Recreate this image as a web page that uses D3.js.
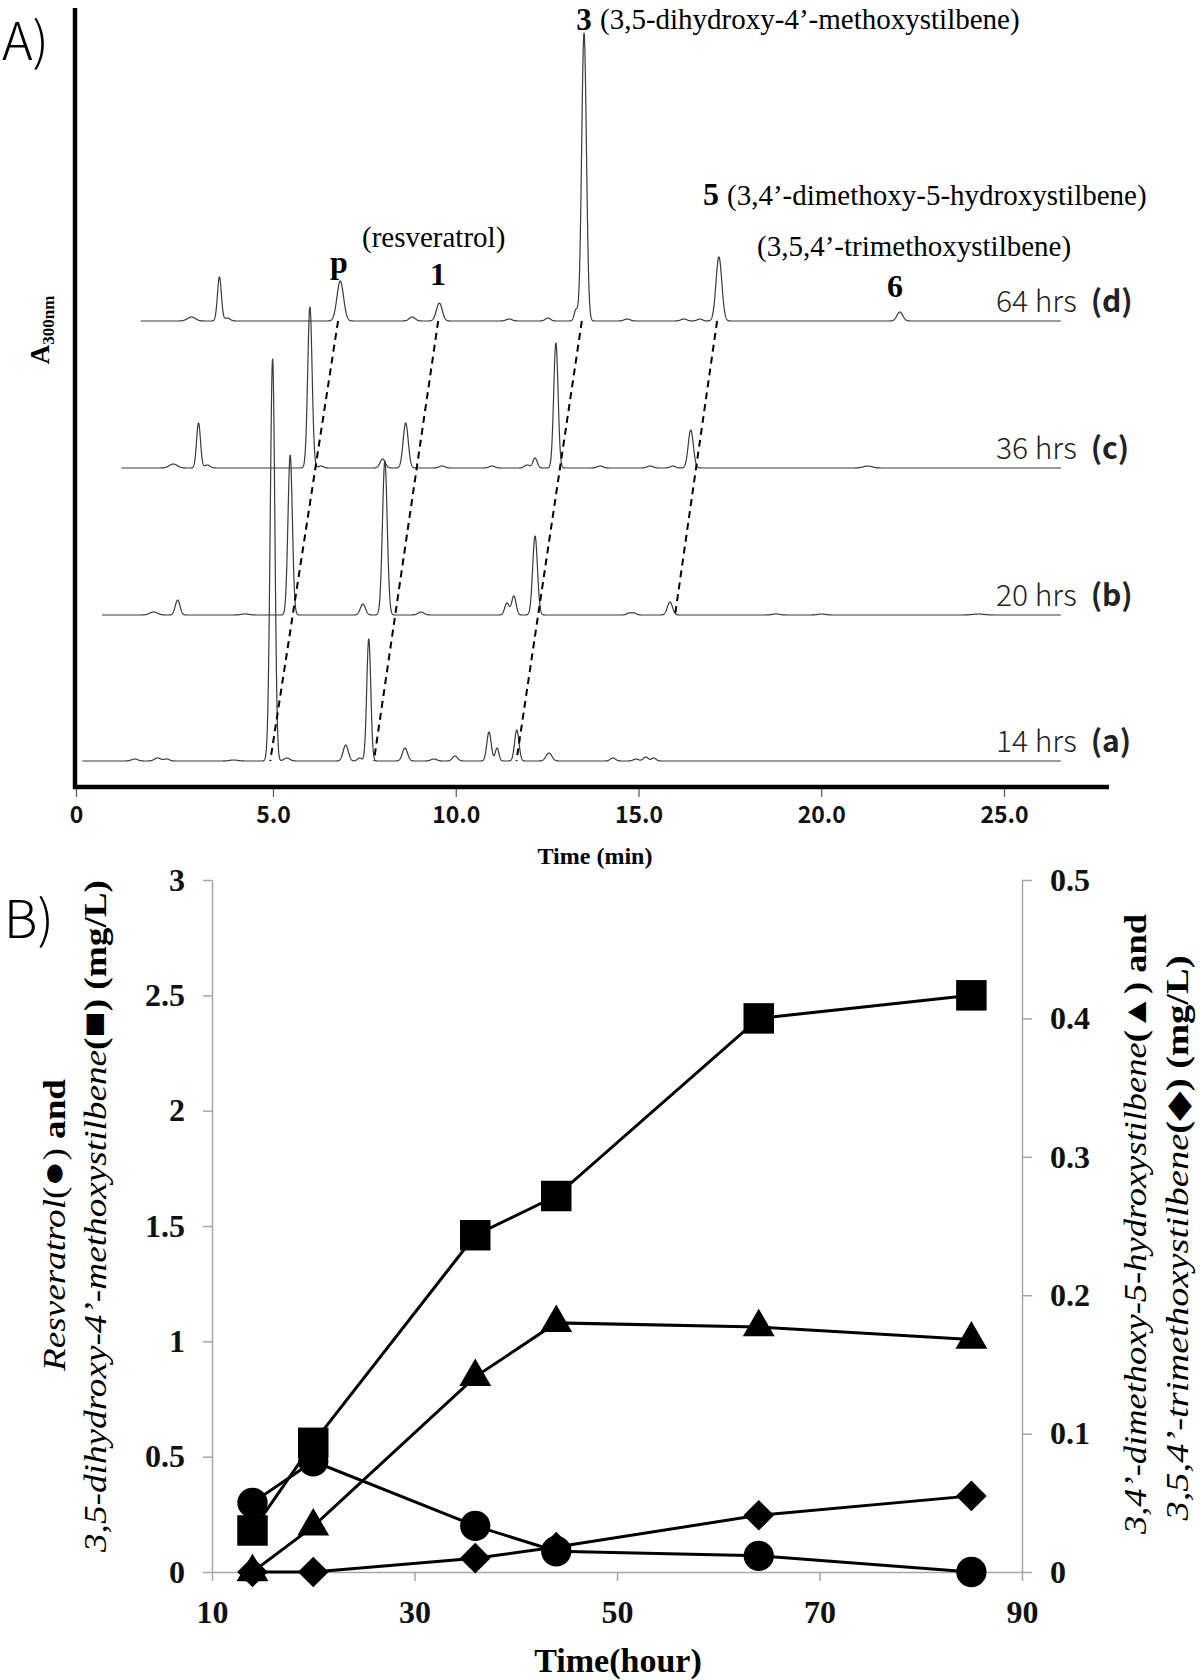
<!DOCTYPE html>
<html>
<head>
<meta charset="utf-8">
<script src="https://cdn.jsdelivr.net/npm/d3@7"></script>
<style>
  html, body { margin: 0; padding: 0; background: #fff; }
  svg { display: block; }
</style>
</head>
<body>
<svg id="chart" width="1200" height="1680"></svg>
<script>
// ---------------- Panel A data (HPLC chromatograms) ----------------
const timeTicks = [0, 5, 10, 15, 20, 25];
const timeTickLabels = ["0", "5.0", "10.0", "15.0", "20.0", "25.0"];
const traceHours = ["14 hrs", "20 hrs", "36 hrs", "64 hrs"];
const traceLetters = ["(a)", "(b)", "(c)", "(d)"];
const runStart = [0.16, 0.66, 1.15, 1.64];   // min
const runEnd = [26.56, 26.56, 26.56, 26.56]; // min
// peaks: [retention time (min), height (mAU), width sigma (min)]
const peaks14h = [[1.49,2,0.08],[2.07,3,0.08],[2.30,2,0.07],[4.0,1,0.1],[4.99,402,0.06],[5.38,3,0.08],
  [6.99,16,0.07],[7.37,3,0.06],[7.62,122,0.055],[8.61,13,0.07],[9.40,2,0.08],[9.98,5,0.07],
  [10.91,29,0.06],[11.13,13,0.05],[11.67,31,0.06],[12.55,8,0.08],[14.30,3,0.07],[14.93,2,0.07],[15.20,4,0.07],[15.42,3,0.06]];
const peaks20h = [[1.97,3,0.1],[2.58,15,0.06],[4.29,1,0.1],[5.47,160,0.06],[7.46,11,0.07],[8.06,154,0.065],
  [9.05,3,0.08],[11.40,12,0.06],[11.59,19,0.06],[12.17,79,0.065],[14.74,2,0.06],[14.88,2,0.06],
  [15.86,13,0.07],[18.76,1,0.1],[20.01,1,0.1],[24.3,1,0.15]];
const peaks36h = [[2.47,4,0.1],[3.11,45,0.05],[3.33,3,0.07],[6.01,161,0.06],[6.31,2,0.07],[8.0,9,0.07],
  [8.63,45,0.07],[9.62,2,0.08],[10.99,2,0.08],[11.95,3,0.07],[12.17,10,0.06],[12.74,125,0.06],
  [13.95,2,0.08],[15.32,2,0.08],[15.94,2,0.07],[16.43,38,0.07],[21.27,2,0.12]];
const peaks64h = [[2.93,4,0.1],[3.64,44,0.05],[3.84,3,0.07],[6.84,40,0.09],[8.81,4,0.08],[9.55,18,0.08],
  [11.46,2,0.08],[12.52,3,0.07],[13.29,11,0.05],[13.51,288,0.065],[14.69,2,0.08],[16.24,2,0.08],
  [16.68,2,0.07],[17.20,64,0.08],[22.15,9,0.08]];
const tracePeaks = [peaks14h, peaks20h, peaks36h, peaks64h];
// dashed connectors: [trace index, time] -> [trace index, time]
const connectors = [
  [[3, 6.78], [0, 4.93]],
  [[3, 9.52], [0, 7.76]],
  [[3, 13.45], [0, 11.66]],
  [[3, 17.15], [1, 16.0]]
];

// ---------------- Panel B data (time course) ----------------
const hours = [14, 20, 36, 44, 64, 85];
const resveratrol = [0.30, 0.48, 0.20, 0.09, 0.07, 0.00];          // left axis (mg/L)
const dihydroxyMethoxy = [0.18, 0.56, 1.46, 1.63, 2.40, 2.50];     // left axis (mg/L)
const dimethoxyHydroxy = [0.000, 0.033, 0.141, 0.180, 0.177, 0.168]; // right axis (mg/L)
const trimethoxy = [0.000, 0.000, 0.010, 0.018, 0.041, 0.055];     // right axis (mg/L)
const hourTicks = [10, 30, 50, 70, 90];
const leftTicks = [0, 0.5, 1, 1.5, 2, 2.5, 3];
const leftTickLabels = ["0", "0.5", "1", "1.5", "2", "2.5", "3"];
const rightTicks = [0, 0.1, 0.2, 0.3, 0.4, 0.5];
const rightTickLabels = ["0", "0.1", "0.2", "0.3", "0.4", "0.5"];

const SERIF = "'Liberation Serif', 'Times New Roman', serif";
const SANS = "'Noto Sans CJK KR', 'Noto Sans', sans-serif";

const svg = d3.select("#chart");

// ================= PANEL A =================
const gA = svg.append("g");
const xA = d3.scaleLinear().domain([0, 5, 25]).range([76, 273, 1004]);
const yAbs = d3.scaleLinear().domain([0, 400]).range([0, 400]);
const baselines = [761, 615, 468, 321];
const axisAY = 787, axisAX = 75;

gA.append("text").attr("x", 2).attr("y", 60).attr("font-family", SANS)
  .attr("font-size", 52).attr("font-weight", 300).text("A)");

// traces
const signal = (t, pk) => d3.sum(pk, p => p[1] * Math.exp(-0.5 * Math.pow((t - p[0]) / p[2], 2)));
tracePeaks.forEach((pk, i) => {
  const ts = d3.range(runStart[i], runEnd[i], 0.004);
  const line = d3.line().x(t => xA(t)).y(t => baselines[i] - yAbs(signal(t, pk)));
  gA.append("path").attr("d", line(ts)).attr("fill", "none")
    .attr("stroke", "#3a3a3a").attr("stroke-width", 1.2).attr("stroke-linejoin", "round");
  const lab = gA.append("text").attr("x", 996).attr("y", baselines[i] - 9)
    .attr("font-family", SANS).attr("font-size", 30).attr("fill", "#222");
  lab.append("tspan").attr("font-weight", 300).text(traceHours[i]);
  lab.append("tspan").attr("font-weight", 700).attr("dx", 14).text(traceLetters[i]);
});

// dashed connectors
connectors.forEach(c => {
  gA.append("line")
    .attr("x1", xA(c[0][1])).attr("y1", baselines[c[0][0]])
    .attr("x2", xA(c[1][1])).attr("y2", baselines[c[1][0]])
    .attr("stroke", "#000").attr("stroke-width", 2).attr("stroke-dasharray", "7,5");
});

// axes
const axA = d3.axisBottom(xA).tickValues(timeTicks).tickFormat((d, i) => timeTickLabels[i])
  .tickSize(10).tickPadding(10);
const gAx = gA.append("g").attr("transform", `translate(0,${axisAY})`).call(axA);
gAx.select(".domain").remove();
gAx.selectAll(".tick line").attr("stroke", "#555").attr("stroke-width", 1.2);
gAx.selectAll(".tick text").attr("font-family", SANS).attr("font-size", 23)
  .attr("font-weight", 700).attr("fill", "#111");
gA.append("line").attr("x1", axisAX - 2).attr("x2", 1109).attr("y1", axisAY).attr("y2", axisAY)
  .attr("stroke", "#000").attr("stroke-width", 4.5);
gA.append("line").attr("x1", axisAX).attr("x2", axisAX).attr("y1", 8).attr("y2", axisAY + 2)
  .attr("stroke", "#000").attr("stroke-width", 4.5);

gA.append("text").attr("x", 595).attr("y", 864).attr("text-anchor", "middle")
  .attr("font-family", SERIF).attr("font-weight", 700).attr("font-size", 24).text("Time (min)");
const yl = gA.append("text").attr("transform", "translate(49,330) rotate(-90)")
  .attr("text-anchor", "middle").attr("font-family", SERIF).attr("font-weight", 700).attr("font-size", 27);
yl.append("tspan").text("A");
yl.append("tspan").attr("font-size", 17).attr("dy", 5).text("300nm");

// peak annotations
const ann = (x, y, txt, opts = {}) => gA.append("text").attr("x", x).attr("y", y)
  .attr("text-anchor", opts.anchor || "start").attr("font-family", SERIF)
  .attr("font-size", opts.size || 29).attr("font-weight", opts.bold ? 700 : 400).text(txt);
ann(584, 30, "3", {anchor: "middle", bold: true, size: 31});
ann(600, 29, "(3,5-dihydroxy-4\u2019-methoxystilbene)");
ann(711, 205, "5", {anchor: "middle", bold: true, size: 32});
ann(727, 205, "(3,4\u2019-dimethoxy-5-hydroxystilbene)");
ann(757, 256, "(3,5,4\u2019-trimethoxystilbene)");
ann(362, 247, "(resveratrol)");
ann(339, 273, "p", {anchor: "middle", bold: true, size: 32});
ann(438, 285, "1", {anchor: "middle", bold: true, size: 32});
ann(895, 297, "6", {anchor: "middle", bold: true, size: 32});

// ================= PANEL B =================
const gB = svg.append("g");
const xB = d3.scaleLinear().domain([10, 90]).range([212, 1022]);
const yL = d3.scaleLinear().domain([0, 3]).range([1572, 880]);
const yR = d3.scaleLinear().domain([0, 0.5]).range([1572, 880]);
const AX = "#a6a6a6";

gB.append("text").attr("x", 4).attr("y", 938).attr("font-family", SANS)
  .attr("font-size", 52).attr("font-weight", 300).text("B)");

const styleAxis = (g) => {
  g.select(".domain").attr("stroke", AX).attr("stroke-width", 1.5);
  g.selectAll(".tick line").attr("stroke", AX).attr("stroke-width", 1.5);
  g.selectAll(".tick text").attr("font-family", SERIF).attr("font-weight", 700)
    .attr("font-size", 32).attr("fill", "#111");
};
const gL = gB.append("g").attr("transform", `translate(${xB(10)},0)`)
  .call(d3.axisLeft(yL).tickValues(leftTicks).tickFormat((d, i) => leftTickLabels[i]).tickSize(9).tickPadding(18).tickSizeOuter(0));
styleAxis(gL);
const gR = gB.append("g").attr("transform", `translate(${xB(90)},0)`)
  .call(d3.axisRight(yR).tickValues(rightTicks).tickFormat((d, i) => rightTickLabels[i]).tickSize(10).tickPadding(18).tickSizeOuter(0));
styleAxis(gR);
const gX = gB.append("g").attr("transform", `translate(0,${yL(0)})`)
  .call(d3.axisBottom(xB).tickValues(hourTicks).tickSize(9).tickPadding(19).tickSizeOuter(0));
styleAxis(gX);

gB.append("text").attr("x", 618).attr("y", 1672).attr("text-anchor", "middle")
  .attr("font-family", SERIF).attr("font-weight", 700).attr("font-size", 34).text("Time(hour)");

// left axis title
const lt1 = gB.append("text").attr("transform", "translate(65,1225) rotate(-90)")
  .attr("text-anchor", "middle").attr("font-family", SERIF).attr("font-size", 31)
  .attr("textLength", 292).attr("lengthAdjust", "spacingAndGlyphs");
lt1.append("tspan").attr("font-style", "italic").text("Resveratrol");
lt1.append("tspan").text("(");
lt1.append("tspan").attr("font-size", 36).text("\u25CF");
lt1.append("tspan").text(")");
lt1.append("tspan").attr("font-weight", 700).text(" and");
const lt2 = gB.append("text").attr("transform", "translate(106,1216) rotate(-90)")
  .attr("text-anchor", "middle").attr("font-family", SERIF).attr("font-size", 31)
  .attr("textLength", 672).attr("lengthAdjust", "spacingAndGlyphs");
lt2.append("tspan").attr("font-style", "italic").text("3,5-dihydroxy-4\u2019-methoxystilbene");
lt2.append("tspan").attr("font-weight", 700).text("(");
lt2.append("tspan").attr("font-size", 36).text("\u25A0");
lt2.append("tspan").attr("font-weight", 700).text(") (mg/L)");

// right axis title
const rt1 = gB.append("text").attr("transform", "translate(1146,1224) rotate(-90)")
  .attr("text-anchor", "middle").attr("font-family", SERIF).attr("font-size", 31)
  .attr("textLength", 620).attr("lengthAdjust", "spacingAndGlyphs");
rt1.append("tspan").attr("font-style", "italic").text("3,4\u2019-dimethoxy-5-hydroxystilbene");
rt1.append("tspan").attr("font-weight", 700).text("(");
rt1.append("tspan").attr("font-size", 31).text("\u25B2");
rt1.append("tspan").attr("font-weight", 700).text(") and");
const rt2 = gB.append("text").attr("transform", "translate(1188,1238) rotate(-90)")
  .attr("text-anchor", "middle").attr("font-family", SERIF).attr("font-size", 31)
  .attr("textLength", 565).attr("lengthAdjust", "spacingAndGlyphs");
rt2.append("tspan").attr("font-style", "italic").text("3,5,4\u2019-trimethoxystilbene");
rt2.append("tspan").attr("font-weight", 700).text("(");
rt2.append("tspan").attr("font-size", 31).text("\u25C6");
rt2.append("tspan").attr("font-weight", 700).text(") (mg/L)");

// series
const series = [
  {vals: dihydroxyMethoxy, y: yL, sym: d3.symbolSquare, size: 930, rot: 0},
  {vals: dimethoxyHydroxy, y: yR, sym: d3.symbolTriangle, size: 440, rot: 0},
  {vals: trimethoxy, y: yR, sym: d3.symbolSquare, size: 470, rot: 45},
  {vals: resveratrol, y: yL, sym: d3.symbolCircle, size: 720, rot: 0}
];
series.forEach(s => {
  const line = d3.line().x((d, i) => xB(hours[i])).y(d => s.y(d));
  gB.append("path").attr("d", line(s.vals)).attr("fill", "none")
    .attr("stroke", "#000").attr("stroke-width", 3);
});
series.forEach(s => {
  gB.selectAll(null).data(s.vals).enter().append("path")
    .attr("d", d3.symbol().type(s.sym).size(s.size))
    .attr("transform", (d, i) => `translate(${xB(hours[i])},${s.y(d)}) rotate(${s.rot})`)
    .attr("fill", "#000");
});
</script>
</body>
</html>
